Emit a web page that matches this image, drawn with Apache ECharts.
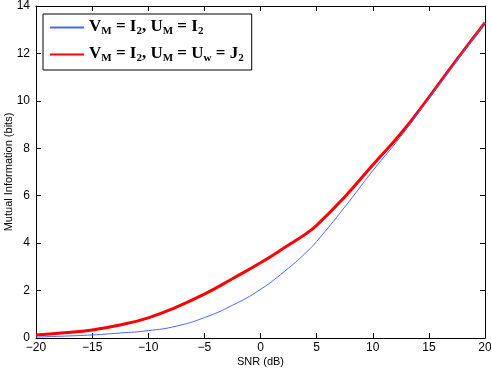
<!DOCTYPE html>
<html><head><meta charset="utf-8">
<script src="https://cdn.jsdelivr.net/npm/echarts@6/dist/echarts.min.js"></script>
<style>html,body{margin:0;padding:0;background:#fff}#c{width:491px;height:369px}</style>
</head><body><div id="c"></div>
<script>
const snr  = [-20,-17.5,-15,-12.5,-10,-7.5,-5,-2.5,0,2.5,4,5,7.5,10,12.5,15,17.5,20];
const miI2 = [0.04,0.08,0.13,0.21,0.31,0.5,0.86,1.38,2.05,2.95,3.58,4.07,5.52,7.05,8.5,10.1,11.7,13.3];
const miJ2 = [0.13,0.22,0.34,0.55,0.85,1.3,1.85,2.5,3.17,3.92,4.38,4.75,5.95,7.3,8.62,10.15,11.75,13.3];
const xTicks = [-20,-15,-10,-5,0,5,10,15,20];
const yTicks = [0,2,4,6,8,10,12,14];
const name1 = 'VM = I2, UM = I2';
const name2 = 'VM = I2, UM = Uw = J2';

const chart = echarts.init(document.getElementById('c'));
const fmtMinus = v => String(v).replace('-', '\u2212');
const axisCommon = {
  axisLine:{show:true, onZero:false, lineStyle:{color:'#000', width:1}},
  axisTick:{show:true, inside:true, length:5, lineStyle:{color:'#000'}},
  splitLine:{show:false}
};
chart.setOption({
  animation:false,
  grid:{left:36, right:6, top:6, bottom:31, containLabel:false, outerBoundsMode:'none'},
  legend:{
    left:43, top:14, orient:'vertical',
    backgroundColor:'#fff', borderColor:'#000', borderWidth:1,
    padding:[4,8,6,6], itemGap:8, itemWidth:34, itemHeight:14,
    itemStyle:{opacity:0},
    data:[name1, name2],
    formatter: n => n === name1
      ? '{b|V}{s|M}{b| = I}{s|2}{b|, U}{s|M}{b| = I}{s|2}'
      : '{b|V}{s|M}{b| = I}{s|2}{b|, U}{s|M}{b| = U}{s|w}{b| = J}{s|2}',
    textStyle:{
      rich:{
        b:{fontFamily:'Liberation Serif', fontWeight:'bold', fontSize:17, color:'#000', lineHeight:19, verticalAlign:'top'},
        s:{fontFamily:'Liberation Serif', fontWeight:'bold', fontSize:11, color:'#000', lineHeight:19, verticalAlign:'bottom', padding:[6,0,0,0]}
      }
    }
  },
  xAxis:[
    Object.assign({type:'value', min:-20, max:20, interval:5, position:'bottom',
      name:'SNR (dB)', nameLocation:'middle', nameGap:18, nameMoveOverlap:false,
      nameTextStyle:{fontFamily:'Liberation Sans', fontSize:11, color:'#000'},
      axisLabel:{fontFamily:'Liberation Sans', fontSize:12, color:'#000', margin:4, formatter:fmtMinus}}, axisCommon),
    Object.assign({type:'value', min:-20, max:20, interval:5, position:'top', axisLabel:{show:false}}, axisCommon)
  ],
  yAxis:[
    Object.assign({type:'value', min:0, max:14, interval:2, position:'left',
      name:'Mutual Information (bits)', nameLocation:'middle', nameGap:22, nameMoveOverlap:false,
      nameTextStyle:{fontFamily:'Liberation Sans', fontSize:11, color:'#000'},
      axisLabel:{fontFamily:'Liberation Sans', fontSize:12, color:'#000', margin:6}}, axisCommon),
    Object.assign({type:'value', min:0, max:14, interval:2, position:'right', axisLabel:{show:false}}, axisCommon)
  ],
  series:[
    {name:name1, type:'line', symbol:'none', smooth:true, data:snr.map((x,i)=>[x, miI2[i]]),
      lineStyle:{color:'#4a66ff', width:1}, itemStyle:{color:'#4a66ff'}, z:3},
    {name:name2, type:'line', symbol:'none', smooth:true, data:snr.map((x,i)=>[x, miJ2[i]]),
      lineStyle:{color:'#ff0000', width:3}, itemStyle:{color:'#ff0000'}, z:2}
  ]
});
</script></body></html>
